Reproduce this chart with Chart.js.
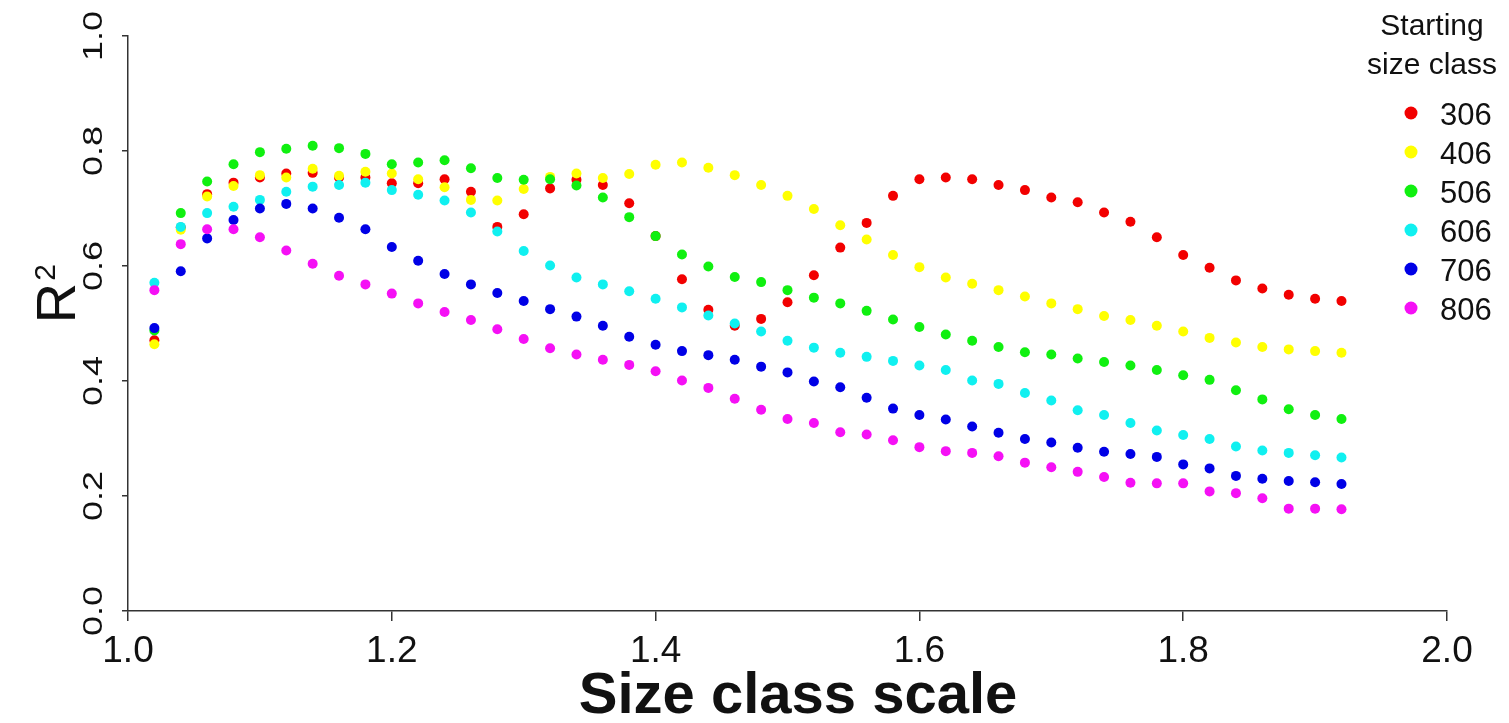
<!DOCTYPE html>
<html>
<head>
<meta charset="utf-8">
<script src="https://cdn.jsdelivr.net/npm/chart.js@4.4.1/dist/chart.umd.min.js"></script>
<style>
  html, body { margin: 0; padding: 0; background: #fff; }
  #wrap { width: 1509px; height: 723px; }
</style>
</head>
<body>
<div id="wrap"><canvas id="grafico"></canvas></div>
<script>
// DADOS
const sizeScale = [1.02, 1.04, 1.06, 1.08, 1.10, 1.12, 1.14, 1.16, 1.18, 1.20,
    1.22, 1.24, 1.26, 1.28, 1.30, 1.32, 1.34, 1.36, 1.38, 1.40,
    1.42, 1.44, 1.46, 1.48, 1.50, 1.52, 1.54, 1.56, 1.58, 1.60,
    1.62, 1.64, 1.66, 1.68, 1.70, 1.72, 1.74, 1.76, 1.78, 1.80,
    1.82, 1.84, 1.86, 1.88, 1.90, 1.92];

const r2_306 = [0.471, 0.667, 0.725, 0.745, 0.754, 0.761, 0.762, 0.754, 0.754, 0.744,
    0.744, 0.751, 0.729, 0.668, 0.690, 0.735, 0.750, 0.741, 0.709, 0.652,
    0.577, 0.524, 0.496, 0.508, 0.537, 0.584, 0.632, 0.675, 0.722, 0.751,
    0.754, 0.751, 0.741, 0.732, 0.719, 0.711, 0.693, 0.677, 0.650, 0.619,
    0.597, 0.575, 0.561, 0.550, 0.543, 0.539];

const r2_406 = [0.464, 0.663, 0.721, 0.739, 0.758, 0.754, 0.769, 0.757, 0.764, 0.761,
    0.751, 0.737, 0.715, 0.714, 0.734, 0.755, 0.761, 0.753, 0.760, 0.776,
    0.780, 0.771, 0.758, 0.741, 0.722, 0.699, 0.671, 0.646, 0.619, 0.598,
    0.580, 0.569, 0.558, 0.547, 0.535, 0.525, 0.513, 0.506, 0.496, 0.486,
    0.475, 0.467, 0.459, 0.455, 0.452, 0.449];

const r2_506 = [0.488, 0.692, 0.747, 0.777, 0.798, 0.804, 0.809, 0.805, 0.795, 0.777,
    0.780, 0.784, 0.770, 0.753, 0.750, 0.751, 0.740, 0.719, 0.685, 0.652,
    0.620, 0.599, 0.581, 0.572, 0.558, 0.545, 0.535, 0.522, 0.507, 0.494,
    0.481, 0.470, 0.459, 0.450, 0.446, 0.439, 0.433, 0.427, 0.419, 0.410,
    0.402, 0.384, 0.368, 0.351, 0.341, 0.334];

const r2_606 = [0.571, 0.668, 0.692, 0.703, 0.715, 0.729, 0.738, 0.741, 0.745, 0.732,
    0.724, 0.714, 0.693, 0.660, 0.626, 0.601, 0.580, 0.568, 0.556, 0.543,
    0.528, 0.514, 0.500, 0.486, 0.470, 0.458, 0.449, 0.442, 0.435, 0.427,
    0.419, 0.401, 0.395, 0.379, 0.366, 0.349, 0.341, 0.327, 0.314, 0.306,
    0.299, 0.286, 0.279, 0.275, 0.271, 0.267];

const r2_706 = [0.492, 0.591, 0.648, 0.680, 0.700, 0.708, 0.700, 0.684, 0.664, 0.633,
    0.609, 0.586, 0.568, 0.553, 0.539, 0.525, 0.512, 0.496, 0.477, 0.463,
    0.452, 0.445, 0.437, 0.425, 0.415, 0.399, 0.389, 0.371, 0.352, 0.341,
    0.333, 0.321, 0.310, 0.299, 0.293, 0.284, 0.277, 0.273, 0.268, 0.255,
    0.248, 0.235, 0.230, 0.226, 0.224, 0.221];

const r2_806 = [0.558, 0.638, 0.664, 0.664, 0.650, 0.627, 0.604, 0.583, 0.568, 0.552,
    0.535, 0.520, 0.506, 0.490, 0.473, 0.457, 0.446, 0.437, 0.428, 0.417,
    0.401, 0.388, 0.369, 0.350, 0.334, 0.327, 0.311, 0.307, 0.297, 0.285,
    0.278, 0.275, 0.269, 0.258, 0.250, 0.242, 0.233, 0.223, 0.222, 0.222,
    0.208, 0.205, 0.196, 0.178, 0.178, 0.177];

const classes = ['306', '406', '506', '606', '706', '806'];
const seriesR2 = [r2_306, r2_406, r2_506, r2_606, r2_706, r2_806];
const xTicks = [1.0, 1.2, 1.4, 1.6, 1.8, 2.0];
const yTicks = [0.0, 0.2, 0.4, 0.6, 0.8, 1.0];

const cores = ['#f20000', '#ffff00', '#10f010', '#10f0f0', '#0000e6', '#f510f5'];
const FONTE = '"Liberation Sans", Arial, Helvetica, sans-serif';

// PLUGIN: textos ao estilo R (eixo y rotacionado, titulos, legenda)
const textosR = {
    id: 'textosR',
    afterDraw(chart) {
        const ctx = chart.ctx;
        const y = chart.scales.y;
        ctx.save();
        ctx.fillStyle = '#111';

        // rotulos do eixo y (girados)
        ctx.font = '36px ' + FONTE;
        ctx.textAlign = 'center';
        ctx.textBaseline = 'middle';
        yTicks.forEach(function (v) {
            ctx.save();
            ctx.translate(94, y.getPixelForValue(v));
            ctx.rotate(-Math.PI / 2);
            ctx.scale(1, 0.78);
            ctx.fillText(v.toFixed(1), 0, 0);
            ctx.restore();
        });

        // titulo do eixo y: R^2
        ctx.save();
        ctx.translate(75, 303);
        ctx.rotate(-Math.PI / 2);
        ctx.textBaseline = 'alphabetic';
        ctx.textAlign = 'center';
        ctx.font = '56px ' + FONTE;
        ctx.fillText('R', 0, 0);
        const w = ctx.measureText('R').width;
        ctx.textAlign = 'left';
        ctx.font = '30px ' + FONTE;
        ctx.fillText('2', w / 2 + 2, -20);
        ctx.restore();

        // titulo do eixo x
        ctx.font = 'bold 58px ' + FONTE;
        ctx.textAlign = 'center';
        ctx.textBaseline = 'alphabetic';
        ctx.fillText('Size class scale', 798, 713);

        // legenda
        ctx.font = '30px ' + FONTE;
        ctx.fillText('Starting', 1432, 35);
        ctx.fillText('size class', 1432, 74);
        ctx.textAlign = 'left';
        classes.forEach(function (c, i) {
            const ly = 113 + i * 39;
            ctx.beginPath();
            ctx.arc(1411, ly, 6.5, 0, Math.PI * 2);
            ctx.fillStyle = cores[i];
            ctx.fill();
            ctx.fillStyle = '#111';
            ctx.font = '31px ' + FONTE;
            ctx.fillText(c, 1440, ly + 12);
        });
        ctx.restore();
    }
};

function montarGrafico() {
    const ctx = document.getElementById('grafico').getContext('2d');
    const datasets = seriesR2.map(function (valores, i) {
        return {
            label: classes[i],
            data: sizeScale.map(function (x, j) { return { x: x, y: valores[j] }; }),
            backgroundColor: cores[i],
            pointBackgroundColor: cores[i],
            pointBorderWidth: 0,
            pointRadius: 5,
            showLine: false,
            order: seriesR2.length - i
        };
    });

    new Chart(ctx, {
        type: 'scatter',
        data: { datasets: datasets },
        options: {
            responsive: true,
            maintainAspectRatio: false,
            animation: false,
            layout: { padding: { left: 0, right: 62, top: 36, bottom: 0 } },
            plugins: {
                legend: { display: false },
                tooltip: { enabled: false }
            },
            scales: {
                x: {
                    type: 'linear',
                    min: 1,
                    max: 2,
                    afterBuildTicks: function (s) { s.ticks = xTicks.map(function (v) { return { value: v }; }); },
                    afterFit: function (s) { s.height = 112; },
                    ticks: {
                        color: '#111',
                        padding: 9,
                        maxRotation: 0,
                        font: { family: FONTE, size: 37 },
                        callback: function (v) { return Number(v).toFixed(1); }
                    },
                    grid: { drawOnChartArea: false, drawTicks: true, tickLength: 10, color: '#333', lineWidth: 1.5 },
                    border: { display: true, color: '#333', width: 1.5 }
                },
                y: {
                    type: 'linear',
                    min: 0,
                    max: 1,
                    afterBuildTicks: function (s) { s.ticks = yTicks.map(function (v) { return { value: v }; }); },
                    afterFit: function (s) { s.width = 128; },
                    ticks: { display: false },
                    grid: { drawOnChartArea: false, drawTicks: true, tickLength: 6, color: '#333', lineWidth: 1.5 },
                    border: { display: true, color: '#333', width: 1.5 }
                }
            }
        },
        plugins: [textosR]
    });
}

montarGrafico();
</script>
</body>
</html>
